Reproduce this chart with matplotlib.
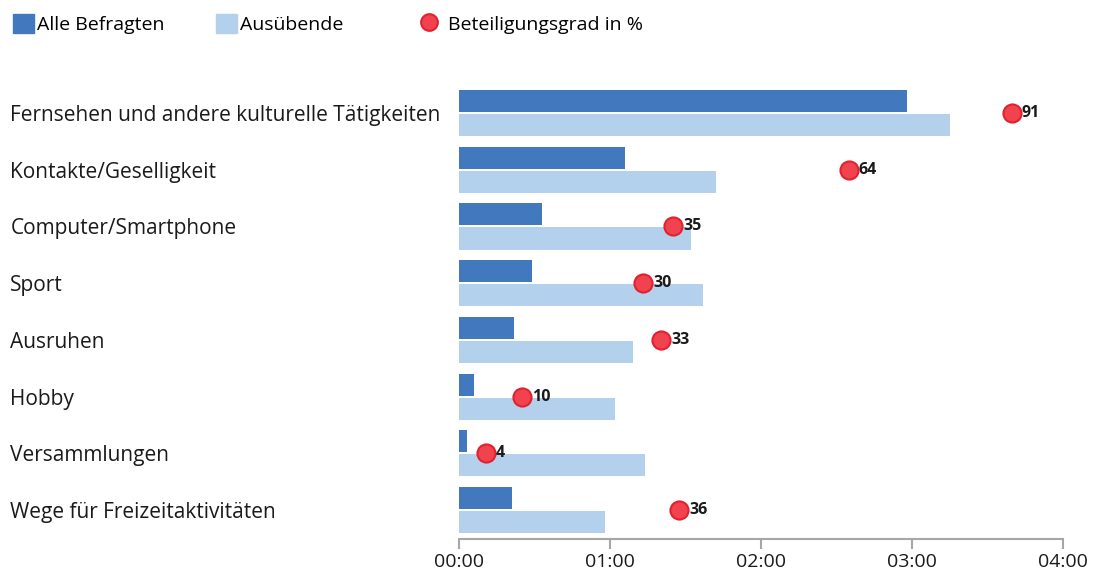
import matplotlib
matplotlib.use("Agg")
import matplotlib.pyplot as plt
from matplotlib.ticker import FuncFormatter, MultipleLocator
from matplotlib.patches import Patch
from matplotlib.lines import Line2D
import numpy as np

plt.rcParams["font.family"] = ["Open Sans", "DejaVu Sans"]

# ── Data ──────────────────────────────────────────────────────────────────────
categories = ["Fernsehen und andere kulturelle Tätigkeiten", "Kontakte/Geselligkeit",
              "Computer/Smartphone", "Sport", "Ausruhen", "Hobby",
              "Versammlungen", "Wege für Freizeitaktivitäten"]
alle_min = [178, 66, 33, 29, 22, 6, 3, 21]          # minutes, Alle Befragten
ausuebende_min = [195, 102, 92, 97, 69, 62, 74, 58]  # minutes, Ausübende
beteiligung = [91, 64, 35, 30, 33, 10, 4, 36]        # percent

c_dark = "#4178be"
c_light = "#b3d1ec"
c_dot = "#f0434f"
c_dot_edge = "#e3202e"
c_axis = "#a6a6a6"
c_text = "#1a1a1a"

fig = plt.figure(figsize=(10.93, 5.73), dpi=100)
ax = fig.add_axes([459/1093, 34/573, 604/1093, 454/573])

y = np.arange(len(categories))
h = 0.39
ax.barh(y - 0.212, alle_min, height=h, color=c_dark)
ax.barh(y + 0.212, ausuebende_min, height=h, color=c_light)

ax.set_xlim(0, 240)
ax.set_ylim(7.51, -0.494)
ax.xaxis.set_major_locator(MultipleLocator(60))
ax.xaxis.set_major_formatter(FuncFormatter(lambda m, p: f"{int(m)//60:02d}:{int(m)%60:02d}"))
ax.tick_params(axis="x", colors=c_axis, length=7, width=1.5, labelcolor=c_text,
               labelsize=14, pad=3)

ax.set_yticks(y)
ax.set_yticklabels(categories, fontsize=15, color=c_text)
ax.tick_params(axis="y", length=0, pad=323)
for lbl in ax.get_yticklabels():
    lbl.set_ha("left")

for s in ["top", "right", "left"]:
    ax.spines[s].set_visible(False)
ax.spines["bottom"].set_color(c_axis)
ax.spines["bottom"].set_linewidth(1.5)

# participation dots on a hidden 0-100 scale
ax2 = ax.twiny()
ax2.set_xlim(-0.5, 99.5)
ax2.axis("off")
ax2.scatter(beteiligung, y, s=170, color=c_dot, edgecolor=c_dot_edge, linewidth=1.5, zorder=3)
for v, yy in zip(beteiligung, y):
    ax2.annotate(str(v), (v, yy), xytext=(7, 0), textcoords="offset points",
                 va="center", ha="left", fontsize=11.5, fontweight="bold", color=c_text)

# legend, three separate entries
leg_kw = dict(frameon=False, fontsize=14, handlelength=1.1, handleheight=1.1,
              handletextpad=0.15, borderaxespad=0, loc="center left")
fig.legend(handles=[Patch(color=c_dark, label="Alle Befragten")],
           bbox_to_anchor=(5/1093, 1 - 24/573), **leg_kw)
fig.legend(handles=[Patch(color=c_light, label="Ausübende")],
           bbox_to_anchor=(208/1093, 1 - 24/573), **leg_kw)
fig.legend(handles=[Line2D([], [], ls="", marker="o", markersize=12, markerfacecolor=c_dot,
                           markeredgecolor=c_dot_edge, markeredgewidth=1.5,
                           label="Beteiligungsgrad in %")],
           bbox_to_anchor=(411/1093, 1 - 24/573), **{**leg_kw, "handletextpad": 0.4})

fig.savefig("out.png", dpi=100)
